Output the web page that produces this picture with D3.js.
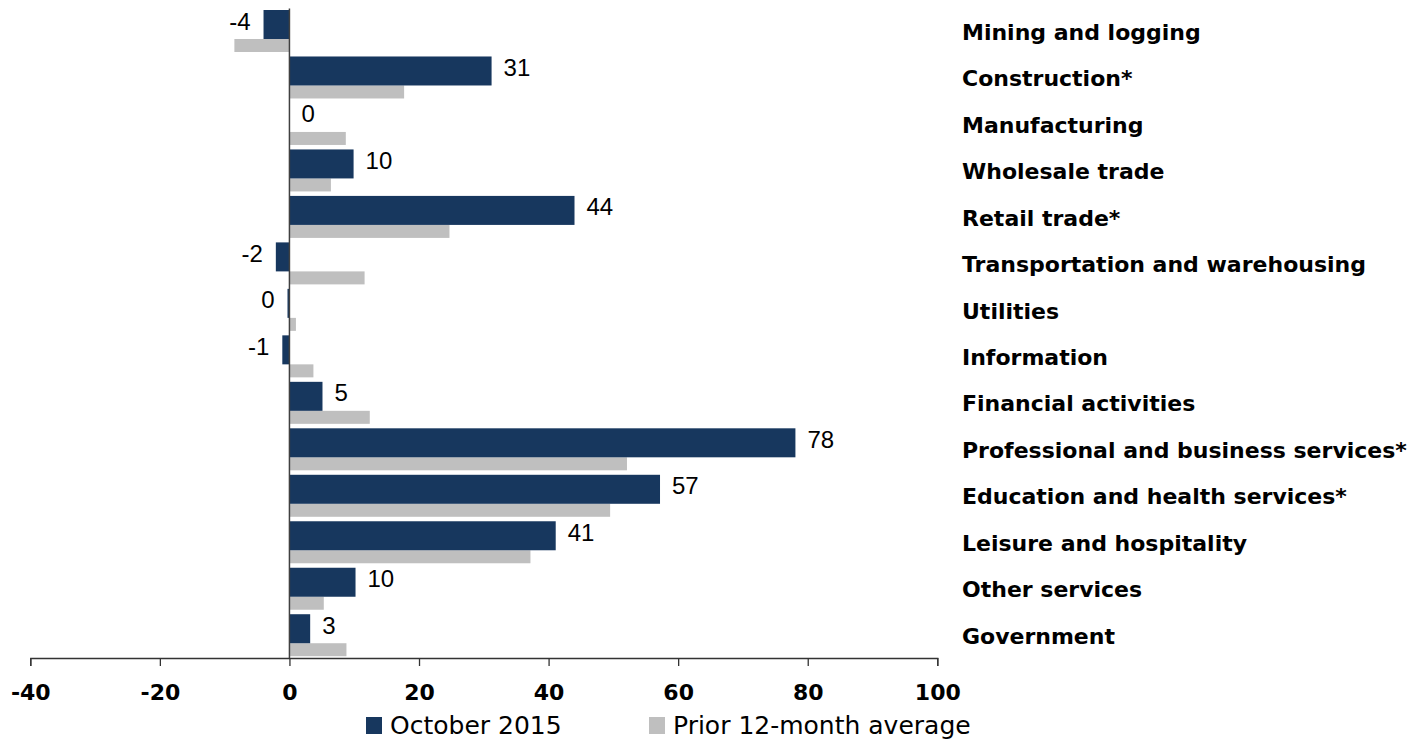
<!DOCTYPE html>
<html>
<head>
<meta charset="utf-8">
<script src="https://cdn.jsdelivr.net/npm/d3@7"></script>
<style>
  body { margin: 0; background: #fff; }
  svg { display: block; }
</style>
</head>
<body>
<div id="chart"></div>
<script>
// industries, top to bottom
var categories = ["Mining and logging", "Construction*", "Manufacturing", "Wholesale trade",
  "Retail trade*", "Transportation and warehousing", "Utilities", "Information",
  "Financial activities", "Professional and business services*", "Education and health services*",
  "Leisure and hospitality", "Other services", "Government"];

// job change, thousands
var october2015 = [-4.0, 31.2, 0, 9.9, 44.0, -2.1, -0.3, -1.1, 5.1, 78.1, 57.2, 41.1, 10.2, 3.2];
var priorAverage = [-8.5, 17.7, 8.7, 6.4, 24.7, 11.6, 1.0, 3.7, 12.4, 52.1, 49.5, 37.2, 5.3, 8.8];

var xTicks = [-40, -20, 0, 20, 40, 60, 80, 100];
var seriesNames = ["October 2015", "Prior 12-month average"];

var W = 1416, H = 742;
var navy = "#17375e", grey = "#bfbfbf";

var svg = d3.select("#chart").append("svg")
  .attr("width", W)
  .attr("height", H);

var x = d3.scaleLinear().domain([-40, 100]).range([30.3, 937.3]);
var y = d3.scaleBand().domain(categories).range([8.5, 659.2]);

var rows = categories.map(function(c, i) {
  return {cat: c, oct: october2015[i], avg: priorAverage[i]};
});

// prior average bars (under the navy ones)
svg.append("g").selectAll("rect")
  .data(rows)
  .enter()
  .append("rect")
  .attr("x", function(d) { return x(Math.min(0, d.avg)); })
  .attr("y", function(d) { return y(d.cat) + 30.5; })
  .attr("width", function(d) { return Math.abs(x(d.avg) - x(0)); })
  .attr("height", 13)
  .attr("fill", grey);

// October bars
svg.append("g").selectAll("rect")
  .data(rows)
  .enter()
  .append("rect")
  .attr("x", function(d) { return x(Math.min(0, d.oct)); })
  .attr("y", function(d) { return y(d.cat) + 1.5; })
  .attr("width", function(d) { return Math.abs(x(d.oct) - x(0)); })
  .attr("height", 29)
  .attr("fill", navy);

// value labels
svg.append("g").selectAll("text")
  .data(rows)
  .enter()
  .append("text")
  .attr("x", function(d) { return d.oct < 0 ? x(d.oct) - 13 : x(d.oct) + 12; })
  .attr("y", function(d) { return y(d.cat) + 1.5 + 14.5 + 5; })
  .attr("text-anchor", function(d) { return d.oct < 0 ? "end" : "start"; })
  .style("font-family", "'Liberation Sans', Arial, sans-serif")
  .style("font-size", "24px")
  .attr("fill", "#000")
  .text(function(d) { return String(Math.round(d.oct)); });

// zero line
svg.append("line")
  .attr("x1", x(0)).attr("x2", x(0))
  .attr("y1", 8.5).attr("y2", 658)
  .attr("stroke", "#404040")
  .attr("stroke-width", 1.5);

// x axis
var xAxis = svg.append("g")
  .attr("transform", "translate(0,658)")
  .call(d3.axisBottom(x).tickValues(xTicks).tickSize(8).tickPadding(18)
    .tickFormat(function(d) { return String(d); }));
xAxis.select(".domain").attr("stroke", "#333").attr("stroke-width", 1.3);
xAxis.selectAll(".tick line").attr("stroke", "#333").attr("stroke-width", 1.3);
xAxis.selectAll(".tick text")
  .style("font-family", "'DejaVu Sans', sans-serif")
  .style("font-weight", "bold")
  .style("font-size", "22px")
  .attr("fill", "#000");

// category labels on the right
svg.append("g").selectAll("text")
  .data(categories)
  .enter()
  .append("text")
  .attr("x", 962)
  .attr("y", function(d) { return y(d) + y.bandwidth() / 2; })
  .attr("dy", "0.36em")
  .style("font-family", "'DejaVu Sans', sans-serif")
  .style("font-weight", "bold")
  .style("font-size", "22px")
  .attr("fill", "#000")
  .text(function(d) { return d; });

// legend
var legend = svg.append("g");
var legendX = [366, 649];
var legendColors = [navy, grey];
seriesNames.forEach(function(name, i) {
  legend.append("rect")
    .attr("x", legendX[i]).attr("y", 717)
    .attr("width", 16).attr("height", 17)
    .attr("fill", legendColors[i]);
  legend.append("text")
    .attr("x", legendX[i] + 24)
    .attr("y", 734)
    .style("font-family", "'DejaVu Sans', sans-serif")
    .style("font-size", "25px")
    .attr("fill", "#000")
    .text(name);
});
</script>
</body>
</html>
